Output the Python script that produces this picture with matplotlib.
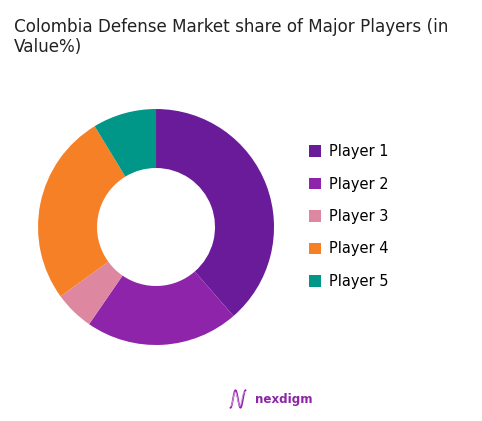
import numpy as np
import matplotlib
matplotlib.use("Agg")
import matplotlib.pyplot as plt
from matplotlib.patches import Patch

plt.rcParams["font.family"] = ["DejaVu Sans"]

players = ["Player 1", "Player 2", "Player 3", "Player 4", "Player 5"]
shares = [38.6, 21.0, 5.4, 26.3, 8.7]
colors = ["#6A1B9A", "#8E24AA", "#DE87A0", "#F58025", "#009688"]

fig = plt.figure(figsize=(4.82, 4.21), dpi=100)

fig.text(0.029, 1 - 18 / 421, "Colombia Defense Market share of Major Players (in\nValue%)",
         ha="left", va="top", fontsize=12.1, color="#222222", linespacing=1.12)

# donut
ax = fig.add_axes([0.0789, 0.1805, 0.4896, 0.5606])
ax.pie(shares, colors=colors, startangle=90, counterclock=False,
       wedgeprops=dict(width=0.5, edgecolor="none"))
ax.set_xlim(-1, 1)
ax.set_ylim(-1, 1)
ax.set_aspect("equal")
ax.axis("off")

handles = [Patch(facecolor=c, edgecolor="none") for c in colors]
fig.legend(handles, players, loc="upper left", bbox_to_anchor=(0.641, 1 - 144 / 421),
           frameon=False, fontsize=10.5, handlelength=0.85, handleheight=0.85,
           handletextpad=0.55, labelspacing=1.2, borderaxespad=0, borderpad=0)

# logo
lax = fig.add_axes([229 / 482, 1 - 410 / 421, 18 / 482, 22 / 421])
s = np.linspace(0, 1, 80)
lax.plot(s, 0.5 - 0.48 * np.cos(3 * np.pi * s), color="#8E24AA", lw=1.2)
lax.plot(s * 0.9 + 0.05, 0.5 - 0.38 * np.cos(3 * np.pi * s + 0.3), color="#D38BE0", lw=0.7)
lax.set_xlim(-0.1, 1.1)
lax.set_ylim(-0.1, 1.1)
lax.axis("off")
fig.text(255 / 482, 1 - 399 / 421, "nexdigm", ha="left", va="center",
         fontsize=8.6, fontweight="bold", color="#8E24AA")

fig.savefig("out.png", dpi=100)
